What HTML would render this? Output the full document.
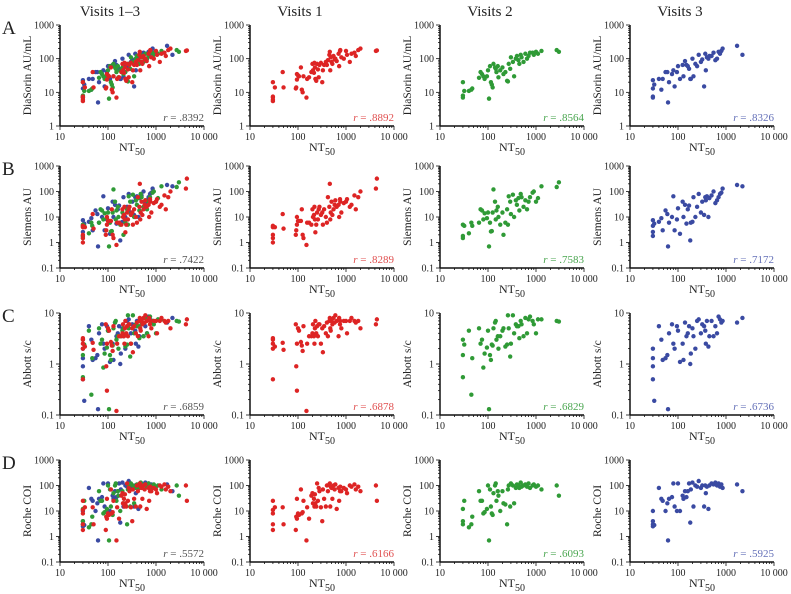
<!DOCTYPE html>
<html><head><meta charset="utf-8"><style>
body{margin:0;background:#fff;}
svg{display:block;font-family:"Liberation Serif",serif;}
</style></head><body>
<svg id="chart" width="791" height="594" viewBox="0 0 791 594"></svg>
<script>
// ---- data ----
const visitTitles=["Visits 1–3","Visits 1","Visits 2","Visits 3"];
const rowLetters=["A","B","C","D"];
const assayNames=["DiaSorin AU/mL","Siemens AU","Abbott s/c","Roche COI"];
const yTickLabels=[["1","10","100","1000"],["0.1","1","10","100","1000"],["0.1","1","10"],["0.1","1","10","100","1000"]];
const xTickLabels=["10","100","1000","10 000"];
const rValues=[[".8392",".8892",".8564",".8326"],[".7422",".8289",".7583",".7172"],[".6859",".6878",".6829",".6736"],[".5572",".6166",".6093",".5925"]];

const v1x=[30,30,30,30,30,33,48,50,90,92,95,95,100,105,115,120,125,130,150,155,170,190,200,205,215,220,225,230,240,250,260,270,280,300,320,330,350,380,400,420,450,460,470,480,500,520,550,580,600,640,700,720,750,760,800,900,1000,1050,1200,1300,1500,1600,1800,2000,4200,4400];
const v1DiaSorin=[5.5,6,7,7.5,20,14,40,14,13,14,35,24,32,30,55,12,10,30,7,25,28,40,70,45,38,75,55,25,22,70,48,28,65,75,20,45,65,80,65,90,130,160,45,110,80,70,120,95,100,85,140,60,170,180,110,100,170,130,80,140,150,120,180,200,170,175];
const v1Siemens=[1,1.5,2,4,4.5,4,13,3.5,2,3,10,5,7,7,7,20,2,1.5,0.8,6,6,5,20,10,12,25,8,2.5,5,15,8,20,25,12,15,5,20,10,6,60,25,200,8,15,40,12,20,30,45,25,30,10,50,40,15,35,40,50,25,30,70,20,60,100,130,320];
const v1Abbott=[0.5,2,2.5,3,3.2,2.2,2.6,1.9,6,0.9,2.5,0.3,5,4.5,2.7,2.3,1.8,5.5,0.12,2.5,3.5,3.5,4,6,3.5,2.5,5,7,4,5.5,3.5,6,6,2.5,5,1.7,5.5,4,6.5,3.5,7,8,5,4.5,7,6,8,6.5,9,7,3.5,8,6,7,5,7,7,4,7,8,7,6.5,7,5,6,7.5];
const v1Roche=[1.8,3,8,11,25,14,14,3,1.8,6,30,5,8,7,70,8,9,25,0.7,14,5,40,50,20,30,15,45,20,15,120,25,80,60,14,4,70,30,15,100,60,110,120,15,90,80,30,100,70,110,12,80,25,60,90,60,80,70,50,100,90,110,70,90,60,100,25];

const v2x=[30,30,30,32,40,45,47,65,70,75,80,85,95,100,105,110,115,120,125,130,140,145,150,160,165,180,200,210,230,250,260,270,290,300,330,350,380,400,430,450,480,500,550,600,650,700,750,850,900,1000,1100,1300,2700,3000];
const v2DiaSorin=[7,8,20,11,11,12,13,27,40,35,30,25,30,45,6.5,60,20,17,14,70,55,50,40,60,28,45,55,35,40,22,21,70,50,110,80,30,100,120,90,70,130,110,80,140,100,120,150,150,130,160,140,170,180,160];
const v2Siemens=[1.5,1.8,5,4.5,2.3,6,4.5,6,20,18,8,14,9,15,0.7,6,2.7,2.8,15,120,40,8,18,25,10,5,15,2,6,20,5,65,40,13,75,10,45,30,55,18,80,60,25,45,20,40,60,90,100,40,55,160,150,230];
const v2Abbott=[0.55,1.5,3,2.4,4.5,0.25,1.3,5,2.5,3,0.85,1.6,2.1,4.5,0.13,1.5,1.2,2.4,2.3,5,6.5,7,3,3.5,2,3.5,4.5,5,2.2,2.4,9,5,1.4,2.5,9,4,6,5.5,5.5,3.2,7,6,3.5,8,4,7.5,8.5,7,6,4,7.5,7.5,7,6.8];
const v2Roche=[3,4,12,25,2.3,3,6,60,25,25,8,9,12,100,0.7,70,15,8,7,50,100,120,25,60,40,10,60,20,18,3,70,100,15,120,100,20,80,110,100,80,130,90,100,110,90,120,80,100,110,90,100,70,100,40];

const v3x=[30,30,30,30,32,40,45,48,55,60,62,65,75,80,85,95,100,110,125,130,140,150,160,170,180,185,200,210,230,250,270,300,320,350,370,380,400,430,450,500,550,600,650,700,750,800,850,1700,2200];
const v3DiaSorin=[7,7.5,13,23,17,25,12,25,40,40,5,20,35,45,15,40,60,25,65,30,85,65,60,50,25,25,100,30,70,60,130,80,95,15,140,45,110,100,120,120,150,90,100,160,140,170,200,240,130];
const v3Siemens=[1.8,2.6,4.5,7.5,5.5,6.5,9,3,18,13,0.7,6,10,65,3,8,22,2.2,40,10,30,5.5,20,28,1.2,6,6.5,60,10,25,80,15,40,12,60,45,65,10,55,70,100,35,45,60,80,90,130,180,160];
const v3Abbott=[0.5,0.9,1.3,2,0.19,5.5,3,1.2,1.3,1.5,0.13,4,6,2.5,2,5.5,4.5,1.1,2.5,1.2,6.5,3.5,4,5.5,1,1.6,5,3.5,2,7,7.5,4,6,5.5,4.5,2.5,7,2.2,3.5,7,3.5,5.5,4,8.5,7.5,6.5,7,6.5,8];
const v3Roche=[2.5,3,4,10,2.8,80,30,25,10,20,0.7,30,35,120,15,10,120,10,40,30,60,35,60,120,3.5,70,130,15,100,90,150,80,100,15,100,50,90,12,100,120,110,130,100,120,90,110,80,110,60];

// ---- layout ----
const NS="http://www.w3.org/2000/svg";
const svg=document.getElementById('chart');
const colX=[60,250,440,630];
const rowTop=[25,166,313,460], rowBot=[126,268,415,562];
const yMinExp=[0,-1,-1,-1], yMaxExp=[3,3,1,3];
const decW=48;
const visitColors=["#dd2424","#2f9a36","#3a4aa2"];
const rColors=["#555","#e05050","#4aa650","#6470b8"];
const visits=[
 {x:v1x,y:[v1DiaSorin,v1Siemens,v1Abbott,v1Roche]},
 {x:v2x,y:[v2DiaSorin,v2Siemens,v2Abbott,v2Roche]},
 {x:v3x,y:[v3DiaSorin,v3Siemens,v3Abbott,v3Roche]}];

function el(tag,attrs,parent){const e=document.createElementNS(NS,tag);for(const k in attrs)e.setAttribute(k,attrs[k]);(parent||svg).appendChild(e);return e;}

visitTitles.forEach((t,c)=>{
 const e=el('text',{x:colX[c]+50,y:16,'font-size':15,'text-anchor':'middle',fill:'#222'});
 e.textContent=t;
 
 
});
rowLetters.forEach((t,r)=>{
 const e=el('text',{x:2,y:rowTop[r]+9,'font-size':19,fill:'#222'});
 e.textContent=t;
 
 
});

for(let r=0;r<4;r++){
 for(let c=0;c<4;c++){
  const g=el('g',{});
  
  
  const x0=colX[c], yT=rowTop[r], yB=rowBot[r];
  const nd=yMaxExp[r]-yMinExp[r];
  const xs=v=>x0+(Math.log10(v)-1)*decW;
  const ys=v=>yB-(Math.log10(v)-yMinExp[r])/nd*(yB-yT);
  const xa=el('line',{x1:x0,y1:yB,x2:x0+3*decW,y2:yB,stroke:'#111','stroke-width':1.5},g);
  
  
  const ya=el('line',{x1:x0,y1:yT,x2:x0,y2:yB,stroke:'#111','stroke-width':1.5},g);
  
  
  for(let d=0;d<=3;d++){
   for(let m=1;m<10;m++){
    if(d===3&&m>1)break;
    const v=Math.pow(10,d+1)*m, x=xs(v);
    el('line',{x1:x,y1:yB,x2:x,y2:yB+(m===1?4:2),stroke:'#111','stroke-width':0.8},g);
   }
   const t=el('text',{x:xs(Math.pow(10,d+1)),y:yB+14,'font-size':10,'text-anchor':'middle',fill:'#222'},g);
   t.textContent=xTickLabels[d];
   
   
  }
  for(let d=0;d<=nd;d++){
   const e=yMinExp[r]+d;
   for(let m=1;m<10;m++){
    if(d===nd&&m>1)break;
    const y=ys(Math.pow(10,e)*m);
    el('line',{x1:x0,y1:y,x2:x0-(m===1?4:2),y2:y,stroke:'#111','stroke-width':0.8},g);
   }
   const t=el('text',{x:x0-6,y:ys(Math.pow(10,e))+3.5,'font-size':10,'text-anchor':'end',fill:'#222'},g);
   t.textContent=yTickLabels[r][d];
   
   
  }
  const xt=el('text',{x:x0+72,y:yB+25,'font-size':12,'text-anchor':'middle',fill:'#222'},g);
  xt.innerHTML='NT<tspan dy="4" font-size="10">50</tspan>';
  
  
  const ym=(yT+yB)/2, yx=x0-29;
  const yt=el('text',{x:yx,y:ym,'font-size':11.5,'text-anchor':'middle',fill:'#222',transform:`rotate(-90 ${yx} ${ym})`},g);
  yt.textContent=assayNames[r];
  
  
  const list=c===0?[2,1,0]:[c-1];
  list.forEach(vi=>{
   const V=visits[vi];
   V.x.forEach((xv,i)=>{
    const p=el('circle',{cx:xs(xv),cy:ys(V.y[r][i]),r:2.2,fill:visitColors[vi]},g);
    
    
   });
  });
  const rt=el('text',{x:x0+144,y:yB-5,'font-size':11,'text-anchor':'end',fill:rColors[c]},g);
  rt.innerHTML='<tspan font-style="italic">r</tspan> = '+rValues[r][c];
  
  
 }
}
</script>
</body></html>
